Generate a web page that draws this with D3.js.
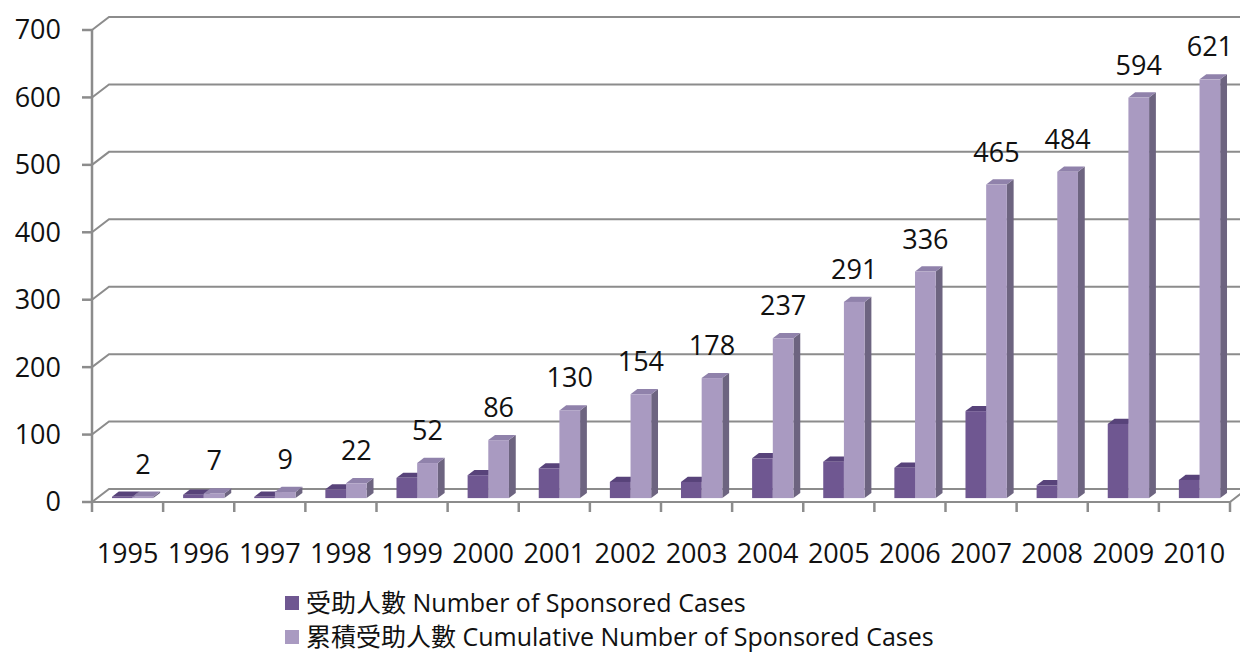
<!DOCTYPE html>
<html>
<head>
<meta charset="utf-8">
<script src="https://cdn.jsdelivr.net/npm/d3@7"></script>
<style>
  body { margin: 0; background: #fff; }
  svg { display: block; font-family: "Open Sans", "Noto Sans CJK TC", sans-serif; }
</style>
</head>
<body>
<svg></svg>
<script>
// data
const years = ['1995','1996','1997','1998','1999','2000','2001','2002','2003','2004','2005','2006','2007','2008','2009','2010'];
const sponsored = [2, 5, 2, 13, 30, 34, 44, 24, 24, 59, 54, 45, 129, 19, 110, 27];
const cumulative = [2, 7, 9, 22, 52, 86, 130, 154, 178, 237, 291, 336, 465, 484, 594, 621];
const yTicks = [0, 100, 200, 300, 400, 500, 600, 700];
const seriesNames = ['受助人數 Number of Sponsored Cases', '累積受助人數 Cumulative Number of Sponsored Cases'];

const width = 1240, height = 653;

// 3d look: offset of the back wall from the front plane
const depth = {dx: 17, dy: -13};
const barFront = 0.3, barBack = 0.7;

const colors = [
    {front: '#6f5791', top: '#58437a', side: '#4c3a66'},
    {front: '#a99ac1', top: '#9082ab', side: '#6d6480'}
];

const xScale = d3.scaleBand()
    .domain(years)
    .range([92, 1230])
    .padding(0);

const inner = d3.scaleBand()
    .domain([0, 1])
    .range([0, xScale.bandwidth()])
    .paddingInner(0)
    .paddingOuter(0.72);

const yScale = d3.scaleLinear()
    .domain([0, 700])
    .range([502, 30]);

const svg = d3.select('svg')
    .attr('width', width)
    .attr('height', height);

// gridlines on back wall (with the diagonal at the left side wall)
svg.append('g')
    .selectAll('path')
    .data(yTicks)
    .enter()
    .append('path')
    .attr('d', d => {
        const y = yScale(d);
        return 'M' + xScale.range()[0] + ',' + y +
            'L' + (xScale.range()[0] + depth.dx) + ',' + (y + depth.dy) +
            'L' + (xScale.range()[1] + depth.dx) + ',' + (y + depth.dy);
    })
    .attr('fill', 'none')
    .attr('stroke', '#8c8c8c')
    .attr('stroke-width', 2);

// floor front edge and right diagonal
const y0 = yScale(0);
svg.append('path')
    .attr('d', 'M' + xScale.range()[0] + ',' + y0 + 'L' + xScale.range()[1] + ',' + y0 +
        'L' + (xScale.range()[1] + depth.dx) + ',' + (y0 + depth.dy))
    .attr('fill', 'none')
    .attr('stroke', '#8c8c8c')
    .attr('stroke-width', 2);

// y axis
svg.append('line')
    .attr('x1', 92).attr('x2', 92)
    .attr('y1', yScale(700)).attr('y2', y0 + 10)
    .attr('stroke', '#8c8c8c')
    .attr('stroke-width', 2.5);

svg.append('g')
    .selectAll('line')
    .data(yTicks)
    .enter()
    .append('line')
    .attr('x1', 82).attr('x2', 92)
    .attr('y1', d => yScale(d)).attr('y2', d => yScale(d))
    .attr('stroke', '#8c8c8c')
    .attr('stroke-width', 2.5);

svg.append('g')
    .selectAll('text')
    .data(yTicks)
    .enter()
    .append('text')
    .attr('x', 61)
    .attr('y', d => yScale(d))
    .attr('dy', '0.35em')
    .attr('text-anchor', 'end')
    .attr('font-size', 27)
    .attr('fill', '#111')
    .text(d => d);

// x ticks at band edges
const edges = years.map(d => xScale(d)).concat([xScale.range()[1]]);
svg.append('g')
    .selectAll('line')
    .data(edges.slice(1))
    .enter()
    .append('line')
    .attr('x1', d => d).attr('x2', d => d)
    .attr('y1', y0).attr('y2', y0 + 10)
    .attr('stroke', '#8c8c8c')
    .attr('stroke-width', 2.5);

svg.append('g')
    .selectAll('text')
    .data(years)
    .enter()
    .append('text')
    .attr('x', d => xScale(d) + xScale.bandwidth() / 2)
    .attr('y', 563)
    .attr('text-anchor', 'middle')
    .attr('font-size', 27)
    .attr('fill', '#111')
    .text(d => d);

// bars
const fx = barFront * depth.dx, fy = barFront * depth.dy;
const bx = (barBack - barFront) * depth.dx, by = (barBack - barFront) * depth.dy;

const bars = [];
years.forEach((yr, i) => {
    bars.push({year: yr, s: 0, value: sponsored[i]});
    bars.push({year: yr, s: 1, value: cumulative[i]});
});

const barG = svg.append('g')
    .selectAll('g')
    .data(bars)
    .enter()
    .append('g');

function geom(d) {
    const x = xScale(d.year) + inner(d.s) + fx;
    const w = inner.bandwidth();
    const yb = y0 + fy;
    const yt = yScale(d.value) + fy;
    return {x, w, yb, yt};
}

barG.append('path')
    .attr('d', d => {
        const g = geom(d);
        return 'M' + (g.x + g.w) + ',' + g.yb + 'L' + (g.x + g.w + bx) + ',' + (g.yb + by) +
            'L' + (g.x + g.w + bx) + ',' + (g.yt + by) + 'L' + (g.x + g.w) + ',' + g.yt + 'Z';
    })
    .attr('fill', d => colors[d.s].side);

barG.append('path')
    .attr('d', d => {
        const g = geom(d);
        return 'M' + g.x + ',' + g.yt + 'L' + (g.x + bx) + ',' + (g.yt + by) +
            'L' + (g.x + g.w + bx) + ',' + (g.yt + by) + 'L' + (g.x + g.w) + ',' + g.yt + 'Z';
    })
    .attr('fill', d => colors[d.s].top);

barG.append('rect')
    .attr('x', d => geom(d).x)
    .attr('y', d => geom(d).yt)
    .attr('width', d => geom(d).w)
    .attr('height', d => geom(d).yb - geom(d).yt)
    .attr('fill', d => colors[d.s].front);

// value labels on cumulative bars
svg.append('g')
    .selectAll('text')
    .data(bars.filter(d => d.s === 1))
    .enter()
    .append('text')
    .attr('x', d => geom(d).x + geom(d).w / 2)
    .attr('y', d => geom(d).yt - 23)
    .attr('text-anchor', 'middle')
    .attr('font-size', 27)
    .attr('fill', '#111')
    .text(d => d.value);

// legend
const legend = svg.append('g')
    .selectAll('g')
    .data(seriesNames)
    .enter()
    .append('g')
    .attr('transform', (d, i) => 'translate(285,' + (603 + i * 34) + ')');

legend.append('rect')
    .attr('x', 0).attr('y', -7)
    .attr('width', 14).attr('height', 14)
    .attr('fill', (d, i) => colors[i].front);

legend.append('text')
    .attr('x', 21)
    .attr('y', 9)
    .attr('font-size', 25)
    .attr('fill', '#111')
    .text(d => d);
</script>
</body>
</html>
